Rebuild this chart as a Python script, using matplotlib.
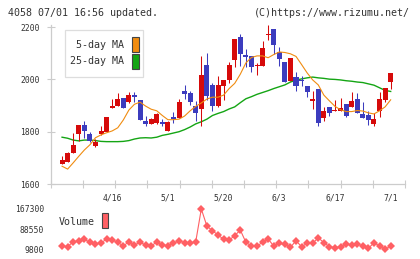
import numpy as np
import matplotlib
matplotlib.use("Agg")
import matplotlib.pyplot as plt
from matplotlib.patches import Rectangle

# ---- data ----
opens = [1671, 1677, 1686, 1718, 1791, 1826, 1792, 1746, 1792, 1800,
         1892, 1897, 1930, 1915, 1942, 1922, 1842, 1828, 1835, 1839,
         1803, 1857, 1854, 1954, 1948, 1899, 1885, 2056, 1979, 1899,
         1976, 1998, 2075, 2163, 2094, 2090, 2052, 2053, 2169, 2193,
         2106, 2067, 1994, 2010, 1997, 1976, 1916, 1964, 1854, 1895,
         1879, 1880, 1907, 1895, 1926, 1868, 1862, 1831, 1880, 1923,
         1992]
highs = [1673, 1708, 1724, 1795, 1826, 1842, 1797, 1773, 1822, 1857,
         1926, 1949, 1930, 1953, 1953, 1922, 1861, 1851, 1873, 1848,
         1840, 1876, 1925, 1979, 1954, 1918, 2088, 2102, 1988, 2014,
         1998, 2066, 2155, 2174, 2116, 2090, 2062, 2148, 2209, 2193,
         2124, 2067, 2083, 2030, 2014, 1976, 1954, 1964, 1895, 1895,
         1922, 1930, 1907, 1953, 1949, 1914, 1880, 1871, 1952, 1969,
         2024]
lows = [1671, 1677, 1686, 1718, 1765, 1776, 1759, 1741, 1788, 1800,
        1892, 1897, 1889, 1909, 1915, 1846, 1820, 1828, 1829, 1820,
        1803, 1832, 1854, 1926, 1904, 1842, 1820, 1922, 1881, 1894,
        1922, 1986, 2047, 2053, 2047, 2028, 2018, 2053, 2149, 2098,
        2053, 1992, 1994, 1954, 1973, 1931, 1886, 1820, 1842, 1861,
        1879, 1880, 1858, 1895, 1870, 1854, 1824, 1820, 1858, 1912,
        1965]
closes = [1673, 1690, 1720, 1750, 1826, 1803, 1765, 1762, 1803, 1857,
          1898, 1926, 1889, 1941, 1932, 1846, 1831, 1847, 1868, 1831,
          1838, 1849, 1914, 1945, 1912, 1870, 2018, 1938, 1899, 1979,
          1998, 2056, 2155, 2099, 2084, 2049, 2054, 2121, 2171, 2130,
          2078, 1992, 2083, 1973, 1995, 1950, 1926, 1835, 1880, 1872,
          1881, 1891, 1861, 1918, 1870, 1854, 1845, 1849, 1926, 1969,
          2024]
ma5 = [np.nan, 1668, 1657, 1681, 1706, 1730, 1750, 1777, 1788, 1796,
       1803, 1815, 1845, 1883, 1905, 1913, 1898, 1886, 1880, 1862,
       1846, 1846, 1848, 1860, 1880, 1897, 1910, 1925, 1932, 1932,
       1940, 1965, 1985, 2020, 2063, 2084, 2090, 2090, 2083, 2095,
       2105, 2103, 2098, 2088, 2057, 2025, 1998, 1979, 1940, 1918,
       1897, 1884, 1877, 1877, 1881, 1879, 1872, 1868, 1880, 1895,
       1922]
ma25 = [np.nan, 1779, 1775, 1768, 1765, 1768, 1768, 1766, 1763, 1762,
        1762, 1762, 1763, 1766, 1772, 1776, 1777, 1776, 1779, 1786,
        1790, 1795, 1800, 1808, 1818, 1830, 1838, 1848, 1862, 1870,
        1877, 1887, 1895, 1911, 1926, 1934, 1943, 1950, 1957, 1965,
        1972, 1979, 1990, 1997, 2002, 2006, 2009, 2006, 2004, 2001,
        2000, 1998, 1995, 1993, 1990, 1988, 1983, 1978, 1968, 1958,
        1954]
volume = [np.nan, 22700, 20000, 39500, 42200, 48900, 37200, 30500, 35600, 48900,
          46100, 37200, 22700, 39500, 26600, 37200, 26600, 23900, 37200, 26600,
          23900, 33200, 43400, 35600, 33200, 39500, 167300, 100800, 82500, 65700,
          48900, 46100, 63000, 85200, 37200, 22700, 22700, 37200, 50000, 22700,
          33200, 29300, 17600, 43400, 20000, 33200, 33200, 55100, 35600, 20000,
          16100, 20000, 30500, 26600, 30500, 22700, 13700, 35600, 22700, 9800,
          22700]
date_pos = [10, 20, 30, 40, 50, 60]
date_labels = ["4/16", "5/1", "5/20", "6/3", "6/17", "7/1"]
price_ticks = [1600, 1800, 2000, 2200]
vol_ticks = [9800, 88550, 167300]
title_left = "4058 07/01 16:56 updated."
title_right = "(C)https://www.rizumu.net/"

# ---- styling ----
W, H = 420, 259
MONO = "DejaVu Sans Mono"
TXT = "#333333"
GRID = "#cccccc"
RED = "#d60a0a"
BLUE = "#3c3cbe"
ORANGE = "#f08c10"
GREEN = "#14a514"
VOLC = "#ff6064"

fig = plt.figure(figsize=(W / 100, H / 100), dpi=100)
fig.patch.set_facecolor("white")

def fx(px):
    return px / W

def fy(py):
    return 1 - py / H

x0, x1 = -1.04, 62.57
ax = fig.add_axes([fx(50.7), fy(184), fx(405) - fx(50.7), fy(21.9) - fy(184)])
ax.set_xlim(x0, x1)
ax.set_ylim(1600, 2220)
ax.patch.set_alpha(0)

x = np.arange(len(opens))
o = np.array(opens, float)
c = np.array(closes, float)
hi = np.array(highs, float)
lo = np.array(lows, float)
up = c >= o
cols = np.where(up, RED, BLUE)
ax.vlines(x, lo, hi, colors=cols, linewidth=0.75, zorder=3)
bottom = np.minimum(o, c)
height = np.maximum(np.abs(c - o), 3.5)
ax.bar(x, height, bottom=bottom, width=0.9, color=cols, linewidth=0, zorder=4)

ax.plot(x, ma25, color=GREEN, linewidth=1.0, zorder=2)
ax.plot(x, ma5, color=ORANGE, linewidth=0.8, zorder=5)

for s in ["top", "right"]:
    ax.spines[s].set_visible(False)
for s in ["left", "bottom"]:
    ax.spines[s].set_color(GRID)
    ax.spines[s].set_linewidth(0.9)
ax.spines["left"].set_bounds(1600, 2207)

ax.set_yticks(price_ticks)
ax.set_yticklabels([str(t) for t in price_ticks])
ax.tick_params(axis="y", direction="inout", length=5.8, width=0.8, color=GRID,
               pad=5.0, labelsize=5.8, labelcolor=TXT)
for lab in ax.get_yticklabels():
    lab.set_fontfamily(MONO)

ax.set_xticks(date_pos)
ax.set_xticklabels(date_labels)
ax.set_xticks(np.linspace(x0, x1, 12), minor=True)
ax.tick_params(axis="x", which="major", length=0, pad=7.0, labelsize=5.8,
               labelcolor=TXT)
ax.tick_params(axis="x", which="minor", direction="inout", length=5.2, width=0.8,
               color=GRID)
for lab in ax.get_xticklabels():
    lab.set_fontfamily(MONO)

# ---- legend (drawn manually) ----
fig.patches.append(Rectangle((fx(65), fy(77)), fx(143) - fx(65), fy(30) - fy(77),
                             transform=fig.transFigure, facecolor="white",
                             edgecolor="#dddddd", linewidth=0.9, zorder=10))
fig.text(fx(124.5), fy(45), "5-day MA", ha="right", va="center", fontsize=7.2,
         family=MONO, color=TXT, zorder=11)
fig.text(fx(124.5), fy(61.5), "25-day MA", ha="right", va="center", fontsize=7.2,
         family=MONO, color=TXT, zorder=11)
fig.patches.append(Rectangle((fx(132), fy(52)), fx(7), fy(37) - fy(52),
                             transform=fig.transFigure, facecolor=ORANGE,
                             edgecolor="#444444", linewidth=0.8, zorder=11))
fig.patches.append(Rectangle((fx(132), fy(69)), fx(7), fy(54) - fy(69),
                             transform=fig.transFigure, facecolor=GREEN,
                             edgecolor="#444444", linewidth=0.8, zorder=11))

# ---- volume panel ----
axv = fig.add_axes([fx(50.7), fy(255), fx(405) - fx(50.7), fy(205) - fy(255)])
axv.set_xlim(x0, x1)
axv.set_ylim(-12480, 182900)
axv.patch.set_alpha(0)
for s in axv.spines.values():
    s.set_visible(False)
axv.plot(x, volume, color=VOLC, linewidth=0.8, marker="D", markersize=3.6,
         markeredgewidth=0, markerfacecolor=VOLC)
axv.set_xticks([])
axv.set_yticks(vol_ticks)
axv.set_yticklabels([str(t) for t in vol_ticks])
axv.tick_params(axis="y", length=0, pad=4.6, labelsize=5.8, labelcolor=TXT)
for lab in axv.get_yticklabels():
    lab.set_fontfamily(MONO)

fig.text(fx(59), fy(222), "Volume", ha="left", va="center", fontsize=7.2,
         family=MONO, color=TXT)
fig.patches.append(Rectangle((fx(102), fy(228)), fx(6), fy(213) - fy(228),
                             transform=fig.transFigure, facecolor=VOLC,
                             edgecolor="#444444", linewidth=0.8))

# ---- header ----
fig.text(fx(8), fy(12.5), title_left, ha="left", va="center", fontsize=7.2,
         family=MONO, color=TXT)
fig.text(fx(410), fy(12.5), title_right, ha="right", va="center", fontsize=7.2,
         family=MONO, color=TXT)

fig.savefig("out.png", dpi=100, facecolor="white")
